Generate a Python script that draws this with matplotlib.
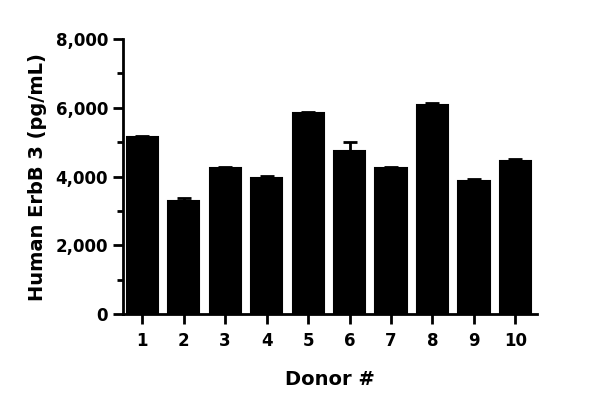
import matplotlib
matplotlib.use("Agg")
import matplotlib.pyplot as plt
from matplotlib.ticker import MultipleLocator, FuncFormatter

donors = ["1", "2", "3", "4", "5", "6", "7", "8", "9", "10"]
means = [5150, 3290, 4250, 3960, 5850, 4740, 4250, 6090, 3860, 4440]
errors = [30, 90, 20, 60, 40, 270, 15, 60, 80, 70]

plt.rcParams['font.family'] = ['DejaVu Sans']
plt.rcParams['font.weight'] = 'bold'

fig = plt.figure(figsize=(6.0, 4.09), dpi=100)
ax = fig.add_axes([0.2045, 0.2315, 0.6905, 0.6735])

x = list(range(1, len(donors) + 1))
ax.bar(x, means, width=0.75, color='black', edgecolor='black', linewidth=1.5,
       zorder=2)
ax.errorbar(x, means, yerr=[[0] * len(errors), errors], fmt='none',
            ecolor='black', elinewidth=2, capsize=4.7, capthick=2, zorder=1)

ax.set_xlim(0.53, 10.52)
ax.set_ylim(0, 8000)
ax.set_xticks(x)
ax.set_xticklabels(donors)
ax.yaxis.set_major_locator(MultipleLocator(2000))
ax.yaxis.set_minor_locator(MultipleLocator(1000))
ax.yaxis.set_major_formatter(FuncFormatter(lambda v, p: f"{int(v):,}"))

for s in ['top', 'right']:
    ax.spines[s].set_visible(False)
for s in ['left', 'bottom']:
    ax.spines[s].set_linewidth(2)

ax.tick_params(axis='both', which='major', length=7, width=2, labelsize=12,
               direction='out')
ax.tick_params(axis='y', which='minor', length=4, width=2)
ax.tick_params(axis='x', pad=6)

for lab in ax.get_xticklabels() + ax.get_yticklabels():
    lab.set_fontweight('bold')

ax.set_xlabel("Donor #", fontsize=14, fontweight='bold', labelpad=14)
ax.set_ylabel("Human ErbB 3 (pg/mL)", fontsize=14, fontweight='bold', labelpad=6)

fig.savefig("out.png", dpi=100)
